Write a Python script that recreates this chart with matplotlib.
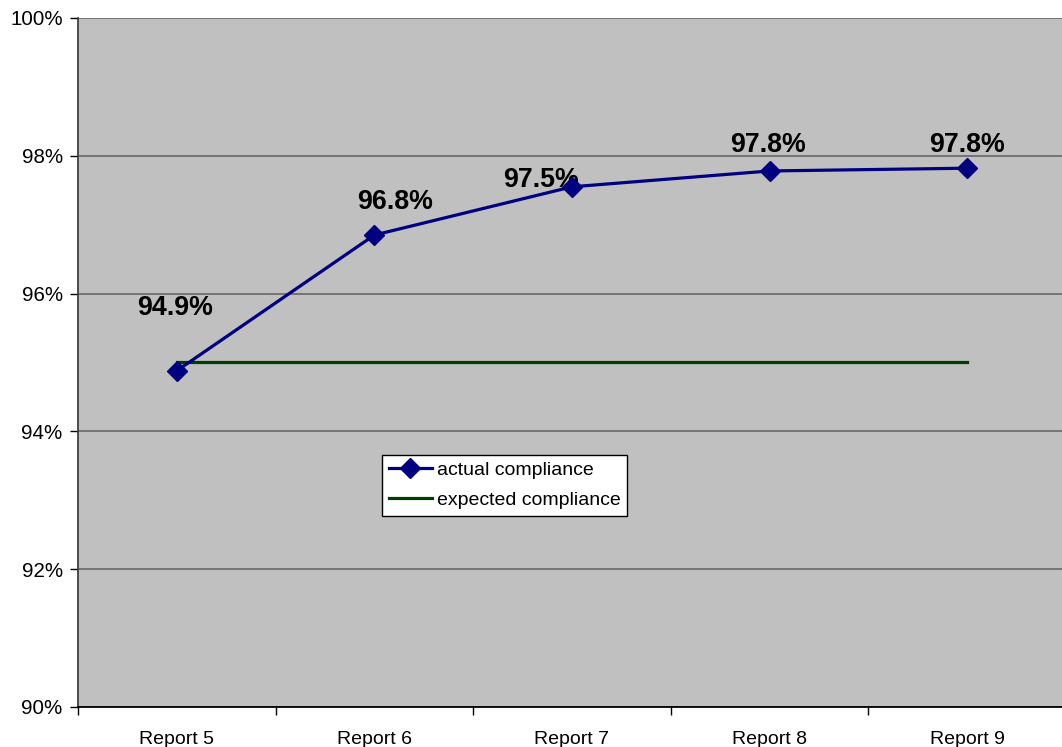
import matplotlib
matplotlib.use('Agg')
import matplotlib.pyplot as plt
import numpy as np

categories = ['Report 5', 'Report 6', 'Report 7', 'Report 8', 'Report 9']
actual = [94.88, 96.85, 97.55, 97.78, 97.82]
actual_labels = ['94.9%', '96.8%', '97.5%', '97.8%', '97.8%']
expected = [95.0, 95.0, 95.0, 95.0, 95.0]

# label offsets in points (dx, dy), placed by hand like in the source
label_offsets = [(-1, 45), (15, 24), (-22, 5), (-1, 19), (0, 17)]

plt.rcParams['font.family'] = ['Liberation Sans', 'DejaVu Sans']

fig = plt.figure(figsize=(10.62, 7.47), dpi=100)
ax = fig.add_axes([78/1062, 40/747, 988/1062, 689/747])
ax.set_facecolor('#c0c0c0')

x = np.arange(len(categories))
ax.plot(x, actual, color='#000080', lw=2.3, marker='D', markersize=10,
        label='actual compliance', zorder=4)
ax.plot(x, expected, color='#003f00', lw=2.3, label='expected compliance', zorder=3)

for xi, yi, lab, off in zip(x, actual, actual_labels, label_offsets):
	ax.annotate(lab, (xi, yi), xytext=off, textcoords='offset points',
				ha='center', va='center', fontsize=19.3, fontweight='bold')

ax.set_xlim(-0.5, len(categories) - 0.5)
ax.set_ylim(90, 100)
ax.set_yticks(np.arange(90, 101, 2))
ax.set_yticklabels(['%d%%' % v for v in range(90, 101, 2)], fontsize=14.8)
ax.yaxis.grid(True, color='#6e6e6e', lw=1.3)
ax.set_axisbelow(True)

# category ticks at boundaries, labels at centres
ax.set_xticks(np.arange(-0.5, len(categories), 1.0))
ax.set_xticklabels([])
ax.set_xticks(x, minor=True)
ax.set_xticklabels(categories, minor=True, fontsize=14)
ax.tick_params(axis='x', which='minor', length=0, pad=17)
ax.tick_params(axis='x', which='major', length=6, width=1, direction='out')
ax.tick_params(axis='y', length=6, width=1, direction='out', pad=5)

ax.spines['top'].set_visible(False)
ax.spines['right'].set_visible(False)
ax.spines['left'].set_color('#404040')
ax.spines['left'].set_linewidth(1.3)
ax.spines['bottom'].set_color('black')
ax.spines['bottom'].set_linewidth(1.3)

leg = ax.legend(loc='upper left', bbox_to_anchor=(0.308, 0.366), fontsize=14,
				frameon=True, fancybox=False, framealpha=1, edgecolor='black',
				handlelength=2.2, handletextpad=0.25, borderpad=0.35, labelspacing=0.62,
				borderaxespad=0)
leg.get_frame().set_linewidth(1)

plt.savefig('out.png', dpi=100)
